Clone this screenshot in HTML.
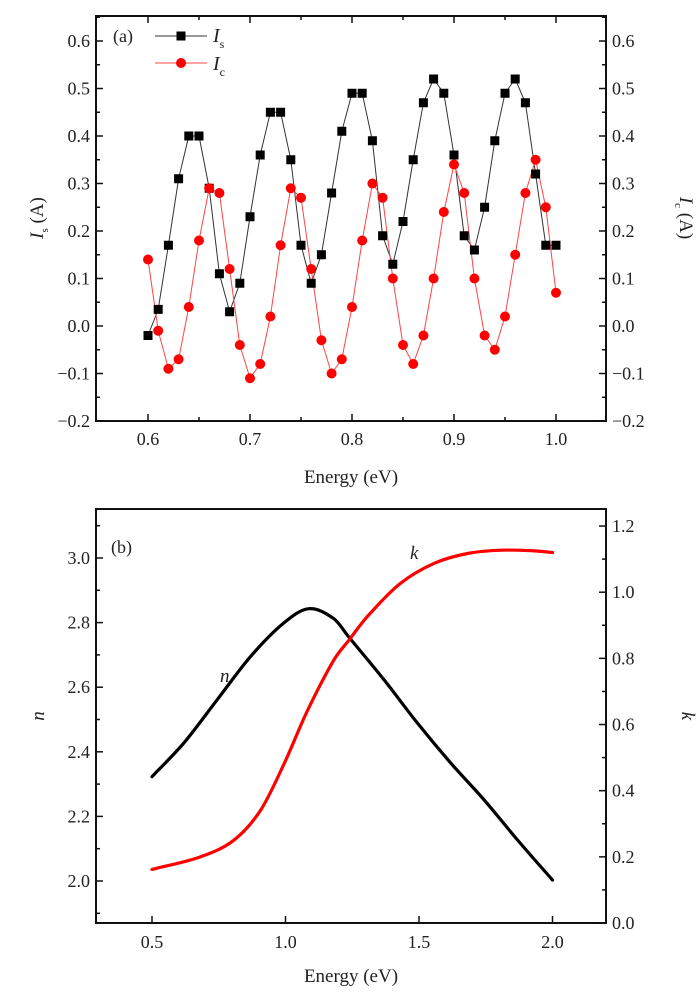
<!DOCTYPE html>
<html><head><meta charset="utf-8"><style>
html,body{margin:0;padding:0;background:#fff;}
svg{display:block;font-family:"Liberation Serif",serif;}
</style></head><body>
<svg id="c" width="700" height="997" xmlns="http://www.w3.org/2000/svg"></svg>
<script>
// Panel (a) data
const energyA = [0.60,0.61,0.62,0.63,0.64,0.65,0.66,0.67,0.68,0.69,0.70,0.71,0.72,0.73,0.74,0.75,0.76,0.77,0.78,0.79,0.80,0.81,0.82,0.83,0.84,0.85,0.86,0.87,0.88,0.89,0.90,0.91,0.92,0.93,0.94,0.95,0.96,0.97,0.98,0.99,1.00];
const isValues = [-0.02,0.035,0.17,0.31,0.40,0.40,0.29,0.11,0.03,0.09,0.23,0.36,0.45,0.45,0.35,0.17,0.09,0.15,0.28,0.41,0.49,0.49,0.39,0.19,0.13,0.22,0.35,0.47,0.52,0.49,0.36,0.19,0.16,0.25,0.39,0.49,0.52,0.47,0.32,0.17,0.17];
const icValues = [0.14,-0.01,-0.09,-0.07,0.04,0.18,0.29,0.28,0.12,-0.04,-0.11,-0.08,0.02,0.17,0.29,0.27,0.12,-0.03,-0.10,-0.07,0.04,0.18,0.30,0.27,0.10,-0.04,-0.08,-0.02,0.10,0.24,0.34,0.28,0.10,-0.02,-0.05,0.02,0.15,0.28,0.35,0.25,0.07];
const xTicksA = ["0.6","0.7","0.8","0.9","1.0"];
const yTicksA = ["-0.2","-0.1","0.0","0.1","0.2","0.3","0.4","0.5","0.6"];
// Panel (b) data
const energyN = [0.5,0.619,0.744,0.869,0.994,1.0875,1.181,1.2375,1.369,1.494,1.619,1.744,1.869,2.0];
const nValues = [2.323,2.427,2.561,2.695,2.799,2.843,2.812,2.755,2.623,2.489,2.365,2.251,2.127,2.003];
const energyK = [0.5,0.681,0.806,0.906,0.994,1.081,1.181,1.2375,1.306,1.431,1.556,1.681,1.806,1.931,2.0];
const kValues = [0.162,0.20,0.25,0.34,0.48,0.64,0.795,0.855,0.926,1.027,1.087,1.117,1.127,1.125,1.12];
const xTicksB = ["0.5","1.0","1.5","2.0"];
const nTicks = ["2.0","2.2","2.4","2.6","2.8","3.0"];
const kTicks = ["0.0","0.2","0.4","0.6","0.8","1.0","1.2"];

const NS="http://www.w3.org/2000/svg";
const svg=document.getElementById('c');
function mk(tag,attrs,parent){const e=document.createElementNS(NS,tag);for(const k in attrs)e.setAttribute(k,attrs[k]);(parent||svg).appendChild(e);return e;}
function txt(s,x,y,anchor,size,parent){const t=mk('text',{x:x,y:y,'text-anchor':anchor||'middle','font-size':size||17,fill:'#222'},parent);t.textContent=s;return t;}

// Axis functions
const L=96,R=606;
const xA=v=>148+(v-0.6)*1020;
const yA=v=>421-(v+0.2)*475;
const xB=v=>152+(v-0.5)*267;
const yN=v=>881-(v-2.0)*323;
const yK=v=>923-v*330.8;

function smooth(pts){
  const n=pts.length, m=[];
  for(let i=0;i<n;i++){
    const a=pts[Math.max(0,i-1)], b=pts[Math.min(n-1,i+1)];
    m.push((b[1]-a[1])/(b[0]-a[0]));
  }
  let d=`M${pts[0][0]},${pts[0][1]}`;
  for(let i=0;i<n-1;i++){
    const p1=pts[i],p2=pts[i+1],dx=(p2[0]-p1[0])/3;
    d+=` C${p1[0]+dx},${p1[1]+m[i]*dx} ${p2[0]-dx},${p2[1]-m[i+1]*dx} ${p2[0]},${p2[1]}`;
  }
  return d;
}

// ---------- Panel A ----------
const gA=mk('g',{});


const frameA=mk('rect',{x:L,y:16,width:R-L,height:405,fill:'none',stroke:'#111','stroke-width':2},gA);


xTicksA.forEach((s,i)=>{const v=0.6+i*0.1,x=xA(v);
  mk('line',{x1:x,y1:421,x2:x,y2:414,stroke:'#111','stroke-width':1.5},gA);
  mk('line',{x1:x,y1:16,x2:x,y2:23,stroke:'#111','stroke-width':1.5},gA);
  const t=txt(s,x,445,'middle',18,gA);
  
  
  if(i<4){const xm=xA(v+0.05);mk('line',{x1:xm,y1:421,x2:xm,y2:417,stroke:'#111','stroke-width':1.5},gA);mk('line',{x1:xm,y1:16,x2:xm,y2:20,stroke:'#111','stroke-width':1.5},gA);}
});
yTicksA.forEach((s,i)=>{const v=-0.2+i*0.1,y=yA(v);
  mk('line',{x1:L,y1:y,x2:L+7,y2:y,stroke:'#111','stroke-width':1.5},gA);
  mk('line',{x1:R,y1:y,x2:R-7,y2:y,stroke:'#111','stroke-width':1.5},gA);
  const lab=s.replace('-','\u2212');
  const t1=txt(lab,L-6,y+6,'end',18,gA);
  
  
  const t2=txt(lab,R+6,y+6,'start',18,gA);
  
  
  const ym=yA(v+0.05);
  if(ym>16){mk('line',{x1:L,y1:ym,x2:L+4,y2:ym,stroke:'#111','stroke-width':1.5},gA);mk('line',{x1:R,y1:ym,x2:R-4,y2:ym,stroke:'#111','stroke-width':1.5},gA);}
});
const lineS=mk('polyline',{points:energyA.map((e,i)=>xA(e)+','+yA(isValues[i])).join(' '),fill:'none',stroke:'#333','stroke-width':1},gA);


const lineC=mk('polyline',{points:energyA.map((e,i)=>xA(e)+','+yA(icValues[i])).join(' '),fill:'none',stroke:'#f44','stroke-width':1},gA);


energyA.forEach((e,i)=>{
  const sq=mk('rect',{x:xA(e)-4.5,y:yA(isValues[i])-4.5,width:9,height:9,fill:'#000'},gA);
  
  
});
energyA.forEach((e,i)=>{
  const c=mk('circle',{cx:xA(e),cy:yA(icValues[i]),r:5,fill:'#f00'},gA);
  
  
});
const lg=mk('g',{},gA);


mk('line',{x1:155,y1:36,x2:207,y2:36,stroke:'#333','stroke-width':1},lg);
mk('rect',{x:176.5,y:31.5,width:9,height:9,fill:'#000'},lg);
mk('line',{x1:155,y1:63,x2:207,y2:63,stroke:'#f44','stroke-width':1},lg);
mk('circle',{cx:181,cy:63,r:5,fill:'#f00'},lg);
const lgs=mk('text',{x:213,y:42,'font-size':20,'font-style':'italic',fill:'#222'},lg);
lgs.innerHTML='I<tspan font-size="12" font-style="normal" dy="6">s</tspan>';


const lgc=mk('text',{x:213,y:70,'font-size':20,'font-style':'italic',fill:'#222'},lg);
lgc.innerHTML='I<tspan font-size="12" font-style="normal" dy="6">c</tspan>';


const pa=txt('(a)',113,42,'start',18,gA);


const xta=txt('Energy (eV)',351,483,'middle',19,gA);


const yla=mk('text',{transform:'translate(43,218) rotate(-90)','text-anchor':'middle','font-size':19,fill:'#222'},gA);
yla.innerHTML='<tspan font-style="italic">I</tspan><tspan font-size="11" dy="5">s</tspan><tspan dy="-5"> (A)</tspan>';


const yra=mk('text',{transform:'translate(680,218) rotate(90)','text-anchor':'middle','font-size':19,fill:'#222'},gA);
yra.innerHTML='<tspan font-style="italic">I</tspan><tspan font-size="11" dy="5">c</tspan><tspan dy="-5"> (A)</tspan>';



// ---------- Panel B ----------
const gB=mk('g',{});


const frameB=mk('rect',{x:L,y:509,width:R-L,height:414,fill:'none',stroke:'#111','stroke-width':2},gB);


xTicksB.forEach((s,i)=>{const x=xB(0.5+i*0.5);
  mk('line',{x1:x,y1:923,x2:x,y2:916,stroke:'#111','stroke-width':1.5},gB);
  const t=txt(s,x,948,'middle',18,gB);
  
  
});
nTicks.forEach((s,i)=>{const v=2.0+i*0.2,y=yN(v);
  mk('line',{x1:L,y1:y,x2:L+7,y2:y,stroke:'#111','stroke-width':1.5},gB);
  const ym=yN(v+0.1);mk('line',{x1:L,y1:ym,x2:L+4,y2:ym,stroke:'#111','stroke-width':1.5},gB);
  const t=txt(s,L-6,y+6,'end',18,gB);
  
  
});
mk('line',{x1:L,y1:yN(1.9),x2:L+4,y2:yN(1.9),stroke:'#111','stroke-width':1.5},gB);
kTicks.forEach((s,i)=>{const v=i*0.2,y=yK(v);
  mk('line',{x1:R,y1:y,x2:R-7,y2:y,stroke:'#111','stroke-width':1.5},gB);
  if(i<6){const ym=yK(v+0.1);mk('line',{x1:R,y1:ym,x2:R-4,y2:ym,stroke:'#111','stroke-width':1.5},gB);}
  const t=txt(s,R+6,y+6,'start',18,gB);
  
  
});
const nLine=mk('path',{d:smooth(energyN.map((e,i)=>[xB(e),yN(nValues[i])])),fill:'none',stroke:'#000','stroke-width':3.2,'stroke-linecap':'round'},gB);


const kLine=mk('path',{d:smooth(energyK.map((e,i)=>[xB(e),yK(kValues[i])])),fill:'none',stroke:'#f00','stroke-width':3.2,'stroke-linecap':'round'},gB);


const nl=mk('text',{x:220,y:682,'font-size':19,'font-style':'italic',fill:'#222'},gB);nl.textContent='n';


const kl=mk('text',{x:410,y:559,'font-size':19,'font-style':'italic',fill:'#222'},gB);kl.textContent='k';


const pb=txt('(b)',111,553,'start',18,gB);


const xtb=txt('Energy (eV)',351,982,'middle',19,gB);


const ylb=mk('text',{transform:'translate(44,716) rotate(-90)','text-anchor':'middle','font-size':19,'font-style':'italic',fill:'#222'},gB);ylb.textContent='n';


const yrb=mk('text',{transform:'translate(682,716) rotate(90)','text-anchor':'middle','font-size':19,'font-style':'italic',fill:'#222'},gB);yrb.textContent='k';


</script>
</body></html>
